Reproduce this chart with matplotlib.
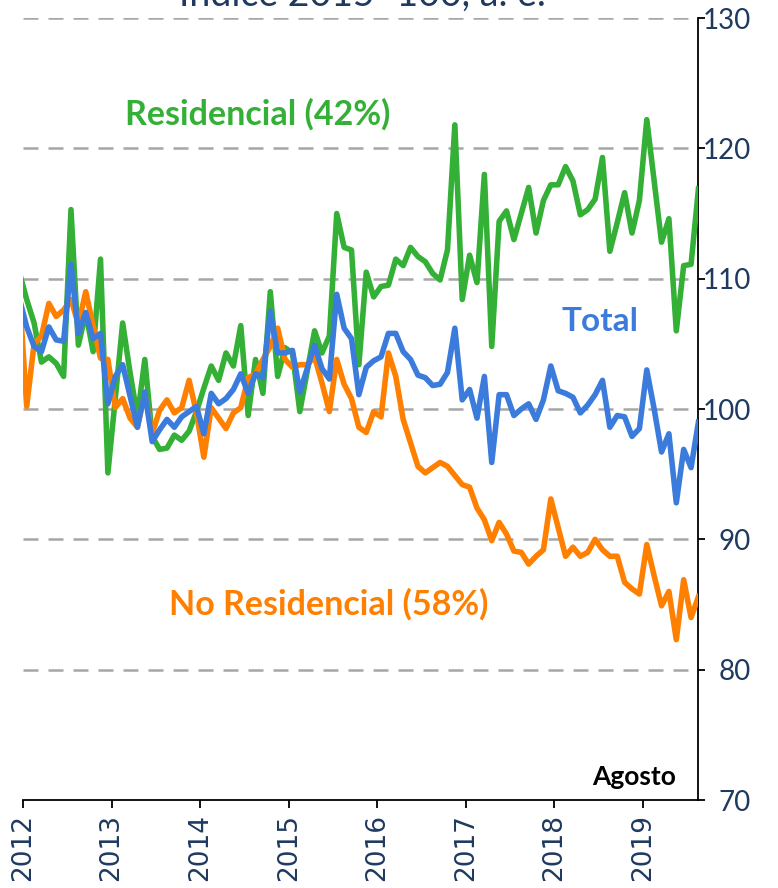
import matplotlib
matplotlib.use("Agg")
import matplotlib.pyplot as plt
import numpy as np

# Índice 2015=100, a. e. -- monthly, Dec 2011 .. Aug 2019 (first point clipped)
residencial = [110.5,
    108.4, 106.6, 103.6, 104.0, 103.5, 102.5, 115.3, 104.9, 107.4, 104.4, 111.5, 95.1,
    100.8, 106.6, 102.8, 99.4, 103.8, 97.9, 96.9, 97.0, 98.0, 97.6, 98.3, 99.8,
    101.6, 103.3, 102.2, 104.3, 103.3, 106.4, 99.5, 103.8, 101.2, 109.0, 102.5, 104.7,
    104.3, 99.8, 102.9, 106.0, 104.3, 105.6, 115.0, 112.4, 112.2, 103.4, 110.5, 108.6,
    109.4, 109.5, 111.5, 111.0, 112.4, 111.7, 111.3, 110.4, 109.9, 112.2, 121.8, 108.4,
    111.8, 109.7, 118.0, 104.8, 114.4, 115.2, 113.0, 115.0, 117.0, 113.5, 116.0, 117.2,
    117.2, 118.6, 117.5, 114.9, 115.3, 116.1, 119.3, 112.1, 114.3, 116.6, 113.5, 116.0,
    122.2, 117.5, 112.8, 114.6, 106.0, 111.0, 111.1, 116.9]

no_residencial = [109.0,
    100.2, 105.0, 105.6, 108.1, 107.1, 107.6, 108.4, 106.5, 109.0, 106.4, 103.9, 103.8,
    100.1, 100.8, 99.3, 98.6, 101.2, 98.1, 99.9, 100.7, 99.7, 100.1, 102.2, 99.7,
    96.3, 100.1, 99.3, 98.5, 99.7, 100.1, 102.4, 102.7, 103.8, 104.8, 106.2, 103.8,
    103.2, 103.4, 103.4, 104.0, 102.0, 99.8, 103.8, 101.9, 100.8, 98.6, 98.2, 99.8,
    99.4, 104.3, 102.5, 99.2, 97.4, 95.6, 95.1, 95.5, 95.9, 95.6, 94.9, 94.2,
    94.0, 92.4, 91.5, 89.9, 91.3, 90.4, 89.1, 89.0, 88.1, 88.7, 89.2, 93.1,
    90.9, 88.7, 89.4, 88.7, 89.0, 90.0, 89.2, 88.7, 88.7, 86.7, 86.2, 85.8,
    89.6, 87.2, 84.9, 86.0, 82.3, 86.9, 84.0, 85.6]

total = [108.5,
    106.3, 104.8, 104.4, 106.3, 105.3, 105.2, 111.1, 105.8, 107.4, 105.4, 105.8, 100.4,
    102.5, 103.4, 101.0, 98.6, 101.3, 97.5, 98.4, 99.2, 98.6, 99.4, 99.8, 100.2,
    98.1, 101.2, 100.4, 100.8, 101.5, 102.7, 101.2, 102.7, 102.4, 107.5, 104.3, 104.3,
    104.5, 101.3, 103.1, 104.9, 103.1, 102.3, 108.8, 106.2, 105.4, 101.1, 103.2, 103.7,
    104.0, 105.8, 105.8, 104.4, 103.8, 102.6, 102.4, 101.8, 101.9, 102.8, 106.2, 100.7,
    101.5, 99.3, 102.5, 95.9, 101.1, 101.1, 99.5, 100.0, 100.4, 99.2, 100.7, 103.3,
    101.4, 101.2, 100.9, 99.7, 100.3, 101.1, 102.2, 98.6, 99.5, 99.4, 97.9, 98.5,
    103.0, 100.0, 96.7, 98.1, 92.8, 96.9, 95.5, 99.0]

years = list(range(2012, 2020))
yticks = [70, 80, 90, 100, 110, 120, 130]

# mid-month positions in decimal years
months = np.arange(-1, len(total) - 1)
x = 2012 + (months + 0.5) / 12

c_green = '#33B035'
c_orange = '#FF7F00'
c_blue = '#3B7BDB'
c_navy = '#1F3A5F'

fig = plt.figure(figsize=(7.78, 8.88), dpi=100)
ax = fig.add_axes([23 / 778, 1 - 800 / 888, (698 - 23) / 778, (800 - 18) / 888])

for v in yticks[1:]:
    ax.axhline(v, color='#A6A6A6', lw=1.8, ls=(0, (6, 4)), zorder=1)

ax.plot(x, residencial, color=c_green, lw=4, zorder=3)
ax.plot(x, no_residencial, color=c_orange, lw=4, zorder=3)
ax.plot(x, total, color=c_blue, lw=4, zorder=4)

ax.set_xlim(2012, 2019.62)
ax.set_ylim(70, 130)

ax.spines['left'].set_visible(False)
ax.spines['top'].set_visible(False)
ax.spines['right'].set_color('black')
ax.spines['bottom'].set_color('black')
ax.spines['right'].set_linewidth(1.3)
ax.spines['bottom'].set_linewidth(1.3)

ax.yaxis.tick_right()
ax.set_yticks(yticks)
ax.set_yticklabels([str(v) for v in yticks], fontsize=20, color=c_navy,
                   family=['Lato', 'DejaVu Sans'], ha='right')
ax.tick_params(axis='y', direction='out', length=5, width=1.3, pad=33, right=True, left=False)

ax.set_xticks(years)
ax.set_xticklabels([str(y) for y in years], rotation=90, fontsize=19, color=c_navy,
                   va='top')
ax.tick_params(axis='x', direction='out', length=6, width=1.3, pad=4)

fam = ['Lato', 'DejaVu Sans']
ax.text(2014.65, 122.6, 'Residencial (42%)', color=c_green, fontsize=24.5, fontweight='bold',
        ha='center', va='center', family=fam)
ax.text(2018.51, 106.7, 'Total', color=c_blue, fontsize=24, fontweight='bold',
        ha='center', va='center', family=fam)
ax.text(2015.45, 85.0, 'No Residencial (58%)', color=c_orange, fontsize=24.5, fontweight='bold',
        ha='center', va='center', family=fam)
ax.text(2019.37, 71.8, 'Agosto', color='black', fontsize=19, fontweight='bold',
        ha='right', va='center', family=fam)

# title sits mostly above the canvas, as in the source image
fig.text(362 / 778, 1 - 6 / 888, 'Índice 2015=100, a. e.', color=c_navy, fontsize=27,
         ha='center', va='baseline', family=fam)

fig.savefig('out.png', dpi=100)
